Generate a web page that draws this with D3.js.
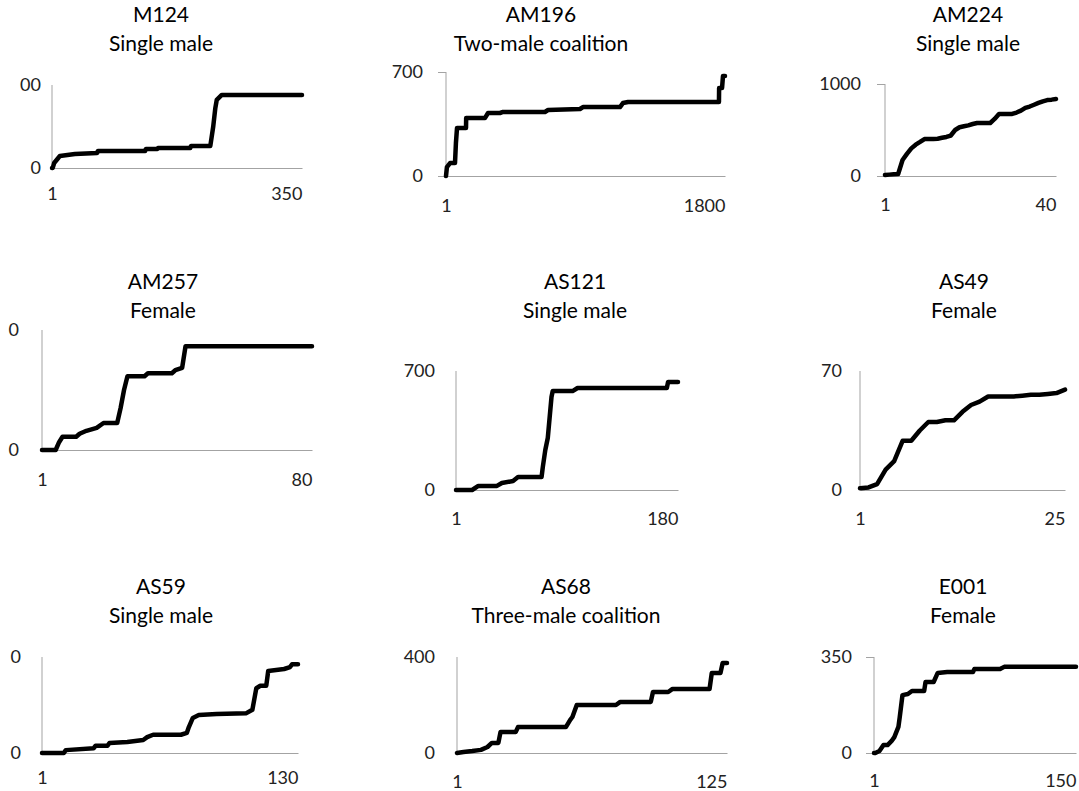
<!DOCTYPE html>
<html>
<head>
<meta charset="utf-8">
<script src="https://cdn.jsdelivr.net/npm/d3@7"></script>
<style>
  body { margin: 0; background: #fff; }
  svg { display: block; }
  text { font-family: Lato, "Noto Sans", sans-serif; }
</style>
</head>
<body>
<script>
// panel titles and subtitles
const ids = ['M124', 'AM196', 'AM224', 'AM257', 'AS121', 'AS49', 'AS59', 'AS68', 'E001']
const groups = ['Single male', 'Two-male coalition', 'Single male', 'Female', 'Single male',
  'Female', 'Single male', 'Three-male coalition', 'Female']
// last x tick (count) and top y tick of every panel
const lastTick = [350, 1800, 40, 80, 180, 25, 130, 125, 150]
const topTick = [400, 700, 1000, 200, 700, 70, 200, 400, 350]
// y tick labels as they show (left column is cut at the page edge)
const topLabel = ['00', '700', '1000', '0', '700', '70', '0', '400', '350']
const zeroLabel = ['0', '0', '0', '0', '0', '0', '0', '0', '0']

// cumulative curves, [x, y]
const m124 = [[1, 0], [2, 0], [4, 24], [12, 58], [33, 67], [64, 72], [65, 82], [131, 82], [132, 92],
  [148, 92], [149, 96], [194, 96], [195, 106], [222, 106], [226, 198], [229, 289], [231, 328],
  [238, 352], [350, 352]]
const am196 = [[1, 0], [7, 60], [27, 87], [59, 87], [65, 222], [72, 323], [130, 323], [131, 390],
  [252, 390], [272, 424], [349, 424], [369, 431], [639, 431], [659, 444], [865, 451], [884, 464],
  [1123, 464], [1142, 491], [1175, 498], [1761, 498], [1762, 592], [1781, 592], [1787, 673], [1800, 673]]
const am224 = [[1, 11], [2, 15], [3, 20], [4, 22], [5, 174], [6, 240], [7, 300], [8, 340], [9, 370],
  [10, 402], [11, 402], [12, 402], [13, 405], [14, 415], [15, 424], [16, 440], [17, 500], [18, 530],
  [19, 540], [20, 550], [21, 565], [22, 576], [23, 576], [24, 576], [25, 576], [26, 620], [27, 674],
  [28, 674], [29, 674], [30, 674], [31, 690], [32, 710], [33, 740], [34, 755], [35, 775], [36, 795],
  [37, 812], [38, 825], [39, 830], [40, 837]]
const am257 = [[1, 0], [5, 0], [6, 13], [7, 22], [11, 22], [12, 27], [14, 32], [17, 37], [19, 45],
  [23, 45], [24, 70], [25, 100], [26, 123], [31, 123], [32, 128], [39, 128], [40, 133], [42, 137],
  [43, 173], [80, 173]]
const as121 = [[1, 0], [14, 0], [19, 24], [34, 24], [38, 41], [47, 53], [51, 76], [70, 76], [71, 135],
  [73, 235], [75, 306], [78, 547], [79, 582], [95, 582], [99, 600], [171, 600], [172, 635], [180, 635]]
const as49 = [[1, 1], [2, 1.5], [3, 3.5], [4, 12], [5, 17], [6, 29], [7, 29], [8, 35], [9, 40], [10, 40],
  [11, 41], [12, 41], [13, 46], [14, 50], [15, 52], [16, 55], [17, 55], [18, 55], [19, 55], [20, 55.5],
  [21, 56], [22, 56], [23, 56.5], [24, 57], [25, 59]]
const as59 = [[1, 0], [12, 0], [13, 6], [27, 10], [28, 15], [34, 15], [35, 21], [44, 23], [52, 27],
  [54, 33], [57, 38], [71, 38], [74, 42], [75, 54], [77, 73], [80, 79], [89, 81], [104, 83], [107, 90],
  [109, 135], [111, 140], [114, 140], [115, 171], [123, 175], [126, 179], [127, 185], [130, 185]]
const as68 = [[1, 0], [4, 4], [8, 8], [12, 13], [15, 25], [17, 42], [20, 42], [21, 88], [28, 88],
  [29, 108], [51, 108], [53, 138], [54, 150], [56, 200], [74, 200], [76, 213], [90, 213], [91, 254],
  [98, 254], [100, 267], [117, 267], [118, 333], [122, 333], [123, 375], [125, 375]]
const e001 = [[1, 0], [2, 0], [5, 7], [8, 29], [11, 29], [14, 44], [16, 58], [19, 95], [20, 131],
  [22, 211], [26, 215], [29, 226], [38, 226], [39, 259], [45, 259], [48, 292], [55, 295], [74, 295],
  [75, 306], [94, 306], [97, 314], [150, 314]]
const series = [m124, am196, am224, am257, as121, as49, as59, as68, e001]

// where each panel sits on the page
const layout = [
  { x0: 52, x1: 302, yTop: 85, y0: 168, tick: 0, pad: 11, xlab: 200, cx: 161, tb: 51 },
  { x0: 446, x1: 725, yTop: 72, y0: 176, tick: 8, pad: 15, xlab: 212, cx: 541, tb: 51 },
  { x0: 885, x1: 1056, yTop: 84, y0: 176, tick: 8, pad: 16, xlab: 211, cx: 968, tb: 51 },
  { x0: 42, x1: 312, yTop: 330, y0: 450, tick: 0, pad: 23, xlab: 486, cx: 163, tb: 318 },
  { x0: 456, x1: 678, yTop: 371, y0: 490, tick: 0, pad: 21, xlab: 525, cx: 575, tb: 318 },
  { x0: 860, x1: 1065, yTop: 371, y0: 490, tick: 0, pad: 18, xlab: 525, cx: 964, tb: 318 },
  { x0: 42, x1: 298, yTop: 657, y0: 753, tick: 0, pad: 21, xlab: 784, cx: 161, tb: 623 },
  { x0: 457, x1: 727, yTop: 657, y0: 753, tick: 0, pad: 22, xlab: 788, cx: 566, tb: 623 },
  { x0: 874, x1: 1076, yTop: 657, y0: 753, tick: 8, pad: 14, xlab: 787, cx: 963, tb: 623 },
]

const width = 1079
const height = 791
const axisColor = '#a3a3a3'
const tickFont = 18
const titleFont = 21

const svg = d3.select('body').append('svg')
  .attr('width', width)
  .attr('height', height)
  .attr('viewBox', [0, 0, width, height])

const drawPanel = (i) => {
  const L = layout[i]
  const g = svg.append('g')

  const x = d3.scaleLinear().domain([1, lastTick[i]]).range([L.x0, L.x1])
  const y = d3.scaleLinear().domain([0, topTick[i]]).range([L.y0, L.yTop])

  // titles
  g.append('text')
    .attr('x', L.cx).attr('y', L.tb - 29)
    .attr('text-anchor', 'middle')
    .attr('font-size', titleFont)
    .attr('fill', '#000')
    .text(ids[i])
  g.append('text')
    .attr('x', L.cx).attr('y', L.tb)
    .attr('text-anchor', 'middle')
    .attr('font-size', titleFont)
    .attr('fill', '#000')
    .text(groups[i])

  // y axis
  const ya = g.append('g')
    .attr('transform', `translate(${L.x0},0)`)
    .call(d3.axisLeft(y)
      .tickValues([0, topTick[i]])
      .tickFormat((d) => d === 0 ? zeroLabel[i] : topLabel[i])
      .tickSize(L.tick)
      .tickPadding(L.pad))
  ya.select('.domain').remove()
  ya.selectAll('line').attr('stroke', axisColor)
  ya.selectAll('text').attr('font-size', tickFont).attr('font-family', 'Lato').attr('fill', '#222')
  g.append('line')
    .attr('x1', L.x0).attr('x2', L.x0)
    .attr('y1', y(topTick[i])).attr('y2', y(0))
    .attr('stroke', axisColor)

  // x axis
  const xa = g.append('g')
    .attr('transform', `translate(0,${L.y0})`)
    .call(d3.axisBottom(x)
      .tickValues([1, lastTick[i]])
      .tickFormat(d3.format('d'))
      .tickSize(0)
      .tickPadding(L.xlab - L.y0 - 0.71 * tickFont))
  xa.select('.domain').attr('stroke', axisColor)
  xa.selectAll('text').attr('font-size', tickFont).attr('font-family', 'Lato').attr('fill', '#222')
    .attr('text-anchor', (d) => d === 1 ? 'middle' : 'end')

  const line = d3.line().x((d) => x(d[0])).y((d) => y(d[1]))
  g.append('path')
    .datum(series[i])
    .attr('d', line)
    .attr('fill', 'none')
    .attr('stroke', '#000')
    .attr('stroke-width', 4.5)
    .attr('stroke-linejoin', 'round')
    .attr('stroke-linecap', 'round')
}

ids.forEach((id, i) => drawPanel(i))
</script>
</body>
</html>
